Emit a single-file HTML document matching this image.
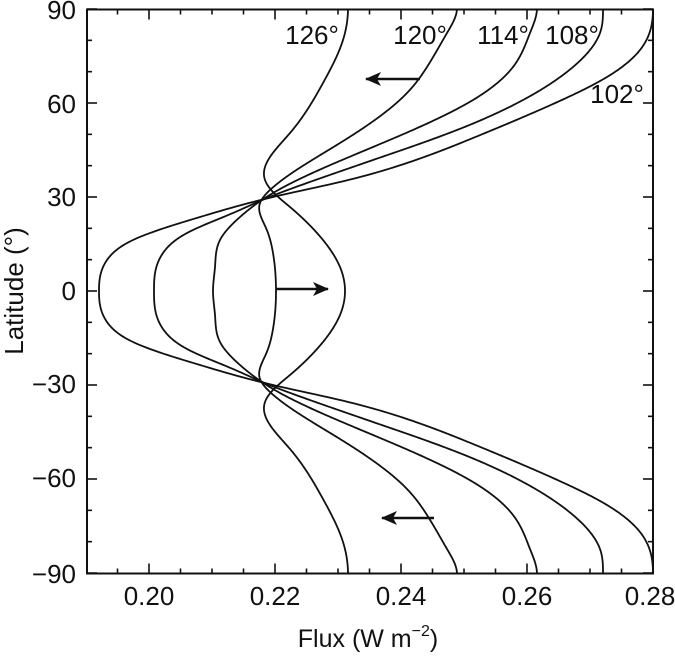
<!DOCTYPE html>
<html><head><meta charset="utf-8"><style>
html,body{margin:0;padding:0;background:#fff;}
svg{display:block;}
text{font-family:"Liberation Sans",Arial,sans-serif;fill:#111;}
</style></head><body>
<svg id="s" width="675" height="657" viewBox="0 0 675 657" xmlns="http://www.w3.org/2000/svg">
<defs>
<marker id="ah" markerWidth="16" markerHeight="14" refX="15" refY="7" orient="auto" markerUnits="userSpaceOnUse">
<path d="M0,0 L16,7 L0,14 L4,7 Z" fill="#111"/>
</marker>
</defs>
<g id="ticks" stroke="#111" stroke-width="1.6"></g>
<rect x="87" y="9.5" width="566" height="564" fill="none" stroke="#111" stroke-width="2"/>
<g id="curves" fill="none" stroke="#111" stroke-width="1.8"></g>
<line x1="276" y1="289" x2="328" y2="289" stroke="#111" stroke-width="2.4" marker-end="url(#ah)" />
<line x1="420" y1="79" x2="366" y2="79" stroke="#111" stroke-width="2.4" marker-end="url(#ah)" />
<line x1="434" y1="518" x2="382" y2="518" stroke="#111" stroke-width="2.4" marker-end="url(#ah)" />
<g font-size="26">
<text x="312" y="44" text-anchor="middle">126°</text>
<text x="420" y="44" text-anchor="middle">120°</text>
<text x="503" y="44" text-anchor="middle">114°</text>
<text x="572" y="44" text-anchor="middle">108°</text>
<text x="617" y="103" text-anchor="middle">102°</text>
</g>
<g font-size="26" text-anchor="end">
<text x="76" y="19">90</text>
<text x="76" y="113">60</text>
<text x="76" y="206">30</text>
<text x="76" y="300">0</text>
<text x="76" y="393">−30</text>
<text x="76" y="487">−60</text>
<text x="76" y="583">−90</text>
</g>
<g font-size="26" text-anchor="middle">
<text x="149" y="605">0.20</text>
<text x="275" y="605">0.22</text>
<text x="401" y="605">0.24</text>
<text x="527" y="605">0.26</text>
<text x="650" y="605">0.28</text>
</g>
<text x="368" y="647" font-size="25" text-anchor="middle">Flux (W m<tspan font-size="16" dy="-11">−2</tspan><tspan dy="11">)</tspan></text>
<text transform="translate(23,291) rotate(-90)" font-size="26" text-anchor="middle">Latitude (°)</text>
</svg>
<script>
(function(){
var ns="http://www.w3.org/2000/svg";
var tg=document.getElementById("ticks");
function ln(x1,y1,x2,y2){var l=document.createElementNS(ns,"line");l.setAttribute("x1",x1);l.setAttribute("y1",y1);l.setAttribute("x2",x2);l.setAttribute("y2",y2);tg.appendChild(l);}
for(var lat=-90;lat<=90;lat+=10){var y=291-lat*3.1333;var L=(lat%30===0)?10:5;ln(87,y,87+L,y);ln(653,y,653-L,y);}
for(var i=-1;i<=16;i++){var f=0.20+i*0.005;var x=149+(f-0.20)*6300;if(x<88||x>653)continue;var L=(i%4===0)?10:5;ln(x,573.5,x,573.5-L);ln(x,9.5,x,9.5+L);}
var N={
"102":[[653,10],[640,50],[607,77],[553,104],[473,138],[407,163],[340,182],[273,197],[200,217],[133,240],[107,260],[99,291]],
"108":[[603,10],[600,33],[573,67],[523,100],[457,130],[373,160],[307,183],[267,198],[233,213],[187,233],[163,253],[154,291]],
"114":[[537,10],[530,33],[513,67],[473,100],[373,147],[273,193],[240,217],[220,240],[215,267],[213,291]],
"120":[[457,10],[447,33],[427,67],[407,93],[340,143],[270,190],[260,203],[266,228],[273,253],[276,291]],
"126":[[348,10],[343,40],[323,83],[290,133],[265,167],[265,180],[273,192],[290,207],[323,240],[340,267],[345,291]]
};
// clamped cubic spline x(lat) with zero slope at both ends
function spline(t,v){
 var n=t.length,h=[],i;for(i=0;i<n-1;i++)h.push(t[i+1]-t[i]);
 var a=[],b=[],c=[],r=[];
 a[0]=0;b[0]=2*h[0];c[0]=h[0];r[0]=6*((v[1]-v[0])/h[0]-0);
 for(i=1;i<n-1;i++){a[i]=h[i-1];b[i]=2*(h[i-1]+h[i]);c[i]=h[i];r[i]=6*((v[i+1]-v[i])/h[i]-(v[i]-v[i-1])/h[i-1]);}
 a[n-1]=h[n-2];b[n-1]=2*h[n-2];c[n-1]=0;r[n-1]=6*(0-(v[n-1]-v[n-2])/h[n-2]);
 for(i=1;i<n;i++){var m=a[i]/b[i-1];b[i]-=m*c[i-1];r[i]-=m*r[i-1];}
 var M=[];M[n-1]=r[n-1]/b[n-1];for(i=n-2;i>=0;i--)M[i]=(r[i]-c[i]*M[i+1])/b[i];
 return function(x){var k=0;while(k<n-2&&x>t[k+1])k++;var hh=h[k],A=(t[k+1]-x)/hh,B=(x-t[k])/hh;
  return A*v[k]+B*v[k+1]+((A*A*A-A)*M[k]+(B*B*B-B)*M[k+1])*hh*hh/6;};
}
var cg=document.getElementById("curves");
for(var k in N){
 var p=N[k].slice().reverse();
 var t=[],v=[];
 for(var j=0;j<p.length;j++){t.push((291-p[j][1])/3.1333);v.push(p[j][0]);}
 t[0]=0;t[t.length-1]=90.3;
 var f=spline(t,v);
 var d="";
 for(var lat=-90;lat<=90.001;lat+=0.5){var la=Math.abs(lat);var x=f(Math.min(la,90.3));var y=291-lat*3.1333;d+=(d?" L":"M")+x.toFixed(2)+","+y.toFixed(2);}
 var pa=document.createElementNS(ns,"path");pa.setAttribute("d",d);cg.appendChild(pa);
}
})();
</script>
</body></html>
